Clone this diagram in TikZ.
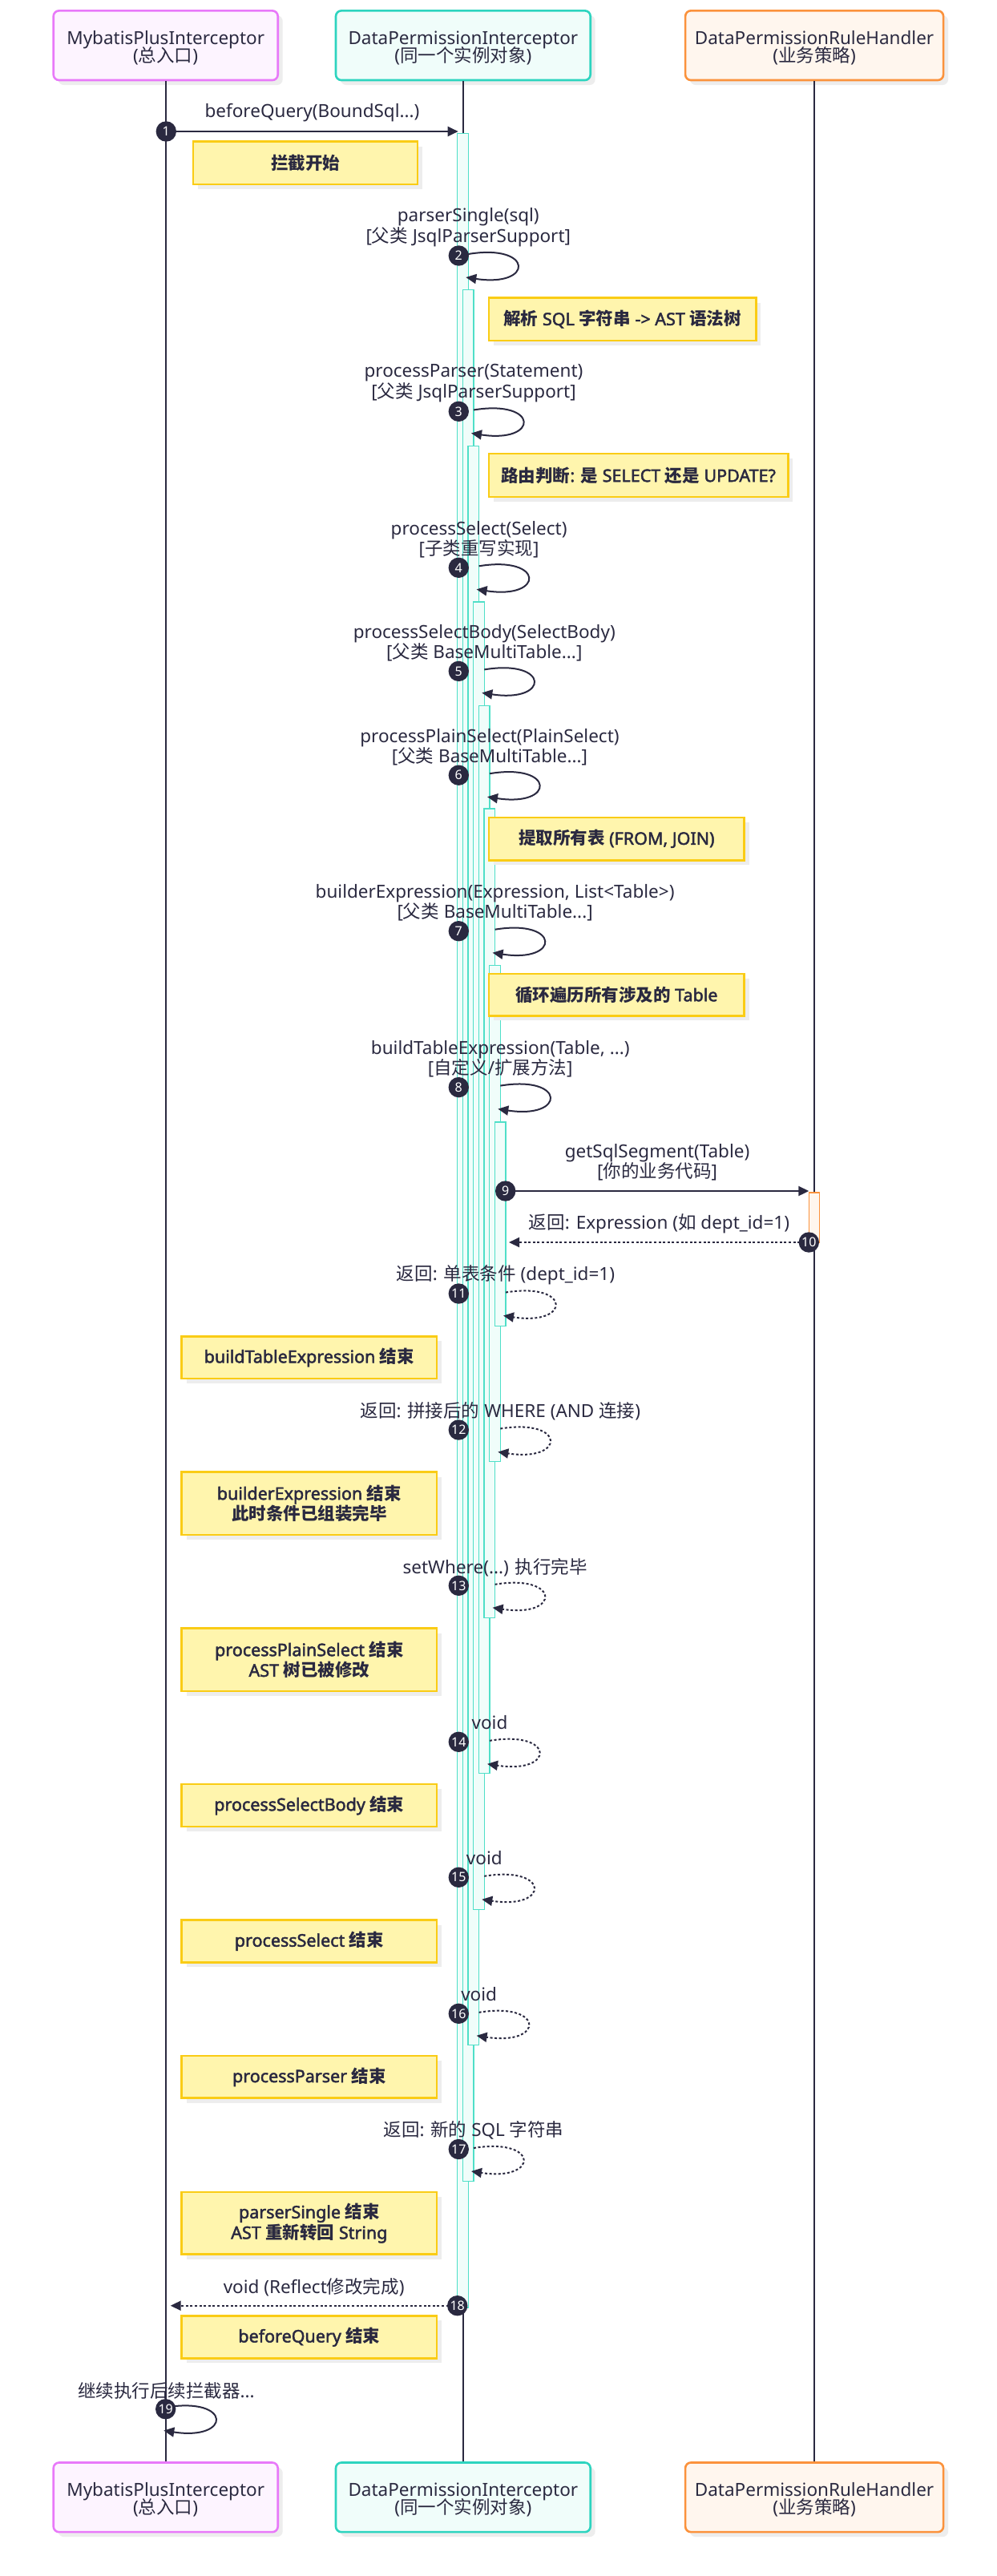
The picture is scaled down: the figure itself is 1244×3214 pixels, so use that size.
\documentclass[tikz,border=0pt]{standalone}
\usepackage{fontspec}
\setmainfont{Noto Sans}[AutoFakeBold=2.2]
\newfontfamily\cjkf{Noto Sans CJK SC}
\newcommand\cj[1]{{\cjkf #1}}
\usetikzlibrary{arrows.meta,shadows}
\lineskiplimit=-100pt
\definecolor{ink}{HTML}{2A2940}
\definecolor{tealB}{HTML}{2DD4BF}
\definecolor{tealF}{HTML}{F0FDFA}
\definecolor{barB}{HTML}{4FDFC8}
\definecolor{pinkB}{HTML}{E879F9}
\definecolor{pinkF}{HTML}{FDF4FF}
\definecolor{orB}{HTML}{FB923C}
\definecolor{orF}{HTML}{FFF6EE}
\definecolor{noteF}{HTML}{FFF5AD}
\definecolor{noteB}{HTML}{FACC15}
\definecolor{shad}{HTML}{EDEDED}
\newcommand\lfont{\fontsize{22.5}{25.5}\selectfont}
\newcommand\hfont{\fontsize{22.5}{22}\selectfont}
\newcommand\nfont{\fontsize{21.5}{25.7}\selectfont\bfseries}
\newcommand\cfont{\fontsize{16}{16}\selectfont}
\newcommand\hs{\rule{0pt}{23pt}}
\tikzset{
  actorbox/.style={rounded corners=7pt, line width=2.6pt, inner sep=0pt, align=center,
    font=\hfont, text=ink, minimum height=86.7pt,
    drop shadow={shadow xshift=6pt, shadow yshift=-6pt, fill=shad, opacity=1}},
  mpi/.style={actorbox, draw=pinkB, fill=pinkF, minimum width=280pt},
  dpi/.style={actorbox, draw=tealB, fill=tealF, minimum width=317.7pt},
  rh/.style={actorbox, draw=orB, fill=orF, minimum width=322pt},
  lifeline/.style={draw=ink, line width=2pt},
  actbar/.style={draw=barB, fill=tealF, line width=1.3pt},
  orbar/.style={draw=orB, fill=orF, line width=1.3pt},
  notebox/.style={draw=noteB, fill=noteF, line width=2.7pt, inner sep=0pt, align=center,
    font=\nfont, text=ink,
    drop shadow={shadow xshift=6pt, shadow yshift=-6pt, fill=shad, opacity=1}},
  lbl/.style={inner sep=0pt, align=center, font=\lfont, text=ink},
  msg/.style={draw=ink, line width=2pt, -{Triangle[length=13pt,width=12pt]}},
  ret/.style={msg, dash pattern=on 3pt off 2.6pt},
  num/.style={circle, fill=ink, text=white, inner sep=0pt, minimum size=25.4pt, font=\cfont},
}
\newcommand\actbar[3]{\draw[actbar] ({570.7+(#1-1)*6.667},#2) rectangle ({584.3+(#1-1)*6.667},#3);}
\newcommand\selfmsg[4]{%
  \coordinate (#1s) at (#2,#3);
  \coordinate (#1e) at ({#2-3},{#3+29});
  \draw[#4] (#1s) .. controls ({#2+82},{#3-13.5}) and ({#2+82},{#3+42}) .. (#1e);}
\begin{document}
\begin{tikzpicture}[x=1pt,y=-1pt]
\useasboundingbox (0,0) rectangle (1244,3214);
\fill[white] (0,0) rectangle (1244,3214);

% actors
\node[mpi] (a1) at (206.7,56.7) {\hs MybatisPlusInterceptor\\(\cj{总入口})};
\node[dpi] (a2) at (577.85,56.7) {\hs DataPermissionInterceptor\\(\cj{同一个实例对象})};
\node[rh]  (a3) at (1016.1,56.7) {\hs DataPermissionRuleHandler\\(\cj{业务策略})};
\node[mpi] (f1) at (206.7,3115.8) {\hs MybatisPlusInterceptor\\(\cj{总入口})};
\node[dpi] (f2) at (577.85,3115.8) {\hs DataPermissionInterceptor\\(\cj{同一个实例对象})};
\node[rh]  (f3) at (1016.1,3115.8) {\hs DataPermissionRuleHandler\\(\cj{业务策略})};

\draw[lifeline] (a1.south) -- (f1.north);
\draw[lifeline] (a2.south) -- (f2.north);
\draw[lifeline] (a3.south) -- (f3.north);

% activation bars
\actbar{1}{166.7}{2879}
\actbar{2}{361.3}{2721.5}
\actbar{3}{556.3}{2551.7}
\actbar{4}{751}{2382.3}
\actbar{5}{880.3}{2212.7}
\actbar{6}{1009}{2018.3}
\actbar{7}{1204.4}{1823.3}
\actbar{8}{1400}{1654.3}
\draw[orbar] (1009.3,1488) rectangle (1022.7,1550);

% notes
\node[notebox, minimum width=280pt, minimum height=53.3pt] (n1) at (381,203.35) {\cj{拦截开始}};
\node[notebox, minimum width=333.3pt, minimum height=53.3pt] (n2) at (776.65,398.35) {\cj{解析} SQL \cj{字符串} -> AST \cj{语法树}};
\node[notebox, minimum width=373.3pt, minimum height=54pt] (n3) at (796.65,593) {\cj{路由判断}: \cj{是} SELECT \cj{还是} UPDATE?};
\node[notebox, minimum width=318.6pt, minimum height=53.4pt] (n4) at (769.3,1046.7) {\cj{提取所有表} (FROM, JOIN)};
\node[notebox, minimum width=318.6pt, minimum height=52.4pt] (n5) at (769.3,1241.2) {\cj{循环遍历所有涉及的} Table};
\node[notebox, minimum width=318.3pt, minimum height=52.7pt] (n6) at (385.85,1693.65) {buildTableExpression \cj{结束}};
\node[notebox, minimum width=318.3pt, minimum height=78.3pt] (n7) at (385.85,1875.85) {builderExpression \cj{结束}\\\cj{此时条件已组装完毕}};
\node[notebox, minimum width=318.3pt, minimum height=78.3pt] (n8) at (385.85,2070.85) {processPlainSelect \cj{结束}\\AST \cj{树已被修改}};
\node[notebox, minimum width=318.3pt, minimum height=53pt] (n9) at (385.85,2252.5) {processSelectBody \cj{结束}};
\node[notebox, minimum width=318.3pt, minimum height=52.6pt] (n10) at (385.85,2422) {processSelect \cj{结束}};
\node[notebox, minimum width=318.3pt, minimum height=52.7pt] (n11) at (385.85,2591.35) {processParser \cj{结束}};
\node[notebox, minimum width=318.3pt, minimum height=77.7pt] (n12) at (385.85,2773.85) {parserSingle \cj{结束}\\AST \cj{重新转回} String};
\node[notebox, minimum width=318.3pt, minimum height=53pt] (n13) at (385.85,2915.8) {beforeQuery \cj{结束}};

% message labels
\node[lbl] (l1) at (389.5,141) {beforeQuery(BoundSql...)};
\node[lbl] (l2) at (584.3,283.5) {parserSingle(sql)\\{[}\cj{父类} JsqlParserSupport]};
\node[lbl] (l3) at (591,478) {processParser(Statement)\\{[}\cj{父类} JsqlParserSupport]};
\node[lbl] (l4) at (597.6,673) {processSelect(Select)\\{[}\cj{子类重写实现}]};
\node[lbl] (l5) at (604.3,802) {processSelectBody(SelectBody)\\{[}\cj{父类} BaseMultiTable...]};
\node[lbl] (l6) at (611,932) {processPlainSelect(PlainSelect)\\{[}\cj{父类} BaseMultiTable...]};
\node[lbl] (l7) at (617.6,1126.2) {builderExpression(Expression, List<Table>)\\{[}\cj{父类} BaseMultiTable...]};
\node[lbl] (l8) at (624.3,1321.3) {buildTableExpression(Table, ...)\\{[}\cj{自定义}/\cj{扩展方法}]};
\node[lbl] (l9) at (820,1450.2) {getSqlSegment(Table)\\{[}\cj{你的业务代码}]};
\node[lbl] (l10) at (822.5,1527) {\cj{返回}: Expression (\cj{如} dept\_id=1)};
\node[lbl] (l11) at (631,1591) {\cj{返回}: \cj{单表条件} (dept\_id=1)};
\node[lbl] (l12) at (624.3,1760.3) {\cj{返回}: \cj{拼接后的} WHERE (AND \cj{连接})};
\node[lbl] (l13) at (617.6,1956) {setWhere(...) \cj{执行完毕}};
\node[lbl] (l14) at (611,2149.3) {void};
\node[lbl] (l15) at (604.3,2318.3) {void};
\node[lbl] (l16) at (597.6,2487.7) {void};
\node[lbl] (l17) at (591,2658.3) {\cj{返回}: \cj{新的} SQL \cj{字符串}};
\node[lbl] (l18) at (391.7,2853.3) {void (Reflect\cj{修改完成})};
\node[lbl] (l19) at (207.3,2982.7) {\cj{继续执行后续拦截器}...};

% messages
\coordinate (m1s) at (207.3,164);  \coordinate (m1e) at (571.7,164);
\draw[msg] (m1s) -- (m1e);
\selfmsg{m2}{584.3}{317}{msg}
\selfmsg{m3}{591}{511.5}{msg}
\selfmsg{m4}{597.6}{706.3}{msg}
\selfmsg{m5}{604.3}{835.4}{msg}
\selfmsg{m6}{611}{965.2}{msg}
\selfmsg{m7}{617.6}{1159.7}{msg}
\selfmsg{m8}{624.3}{1354.6}{msg}
\coordinate (m9s) at (630.7,1486);  \coordinate (m9e) at (1009.3,1486);
\draw[msg] (m9s) -- (m9e);
\coordinate (m10s) at (1009.3,1550);  \coordinate (m10e) at (635,1550);
\draw[ret] (m10s) -- (m10e);
\selfmsg{m11}{631}{1612.5}{ret}
\selfmsg{m12}{624.3}{1782.5}{ret}
\selfmsg{m13}{617.6}{1976.8}{ret}
\selfmsg{m14}{611}{2171.8}{ret}
\selfmsg{m15}{604.3}{2340.8}{ret}
\selfmsg{m16}{597.6}{2510.8}{ret}
\selfmsg{m17}{591}{2680}{ret}
\coordinate (m18s) at (570.7,2876.7);  \coordinate (m18e) at (212.7,2876.7);
\draw[ret] (m18s) -- (m18e);
\selfmsg{m19}{207.3}{3003.5}{msg}

% sequence numbers
\node[num] (c1) at (m1s) {1};
\node[num] (c2) at (572.3,319) {2};
\node[num] (c3) at (572.3,513.3) {3};
\node[num] (c4) at (572.3,708.3) {4};
\node[num] (c5) at (572.3,837.4) {5};
\node[num] (c6) at (572.3,967.2) {6};
\node[num] (c7) at (572.3,1161.7) {7};
\node[num] (c8) at (572.3,1356.6) {8};
\node[num] (c9) at (m9s) {9};
\node[num] (c10) at (m10s) {10};
\node[num] (c11) at (572.3,1614) {11};
\node[num] (c12) at (572.3,1784) {12};
\node[num] (c13) at (572.3,1978.3) {13};
\node[num] (c14) at (572.3,2173.3) {14};
\node[num] (c15) at (572.3,2342.3) {15};
\node[num] (c16) at (572.3,2512.3) {16};
\node[num] (c17) at (572.3,2681.5) {17};
\node[num] (c18) at (m18s) {18};
\node[num] (c19) at (206.7,3005.7) {19};
\end{tikzpicture}
\end{document}
